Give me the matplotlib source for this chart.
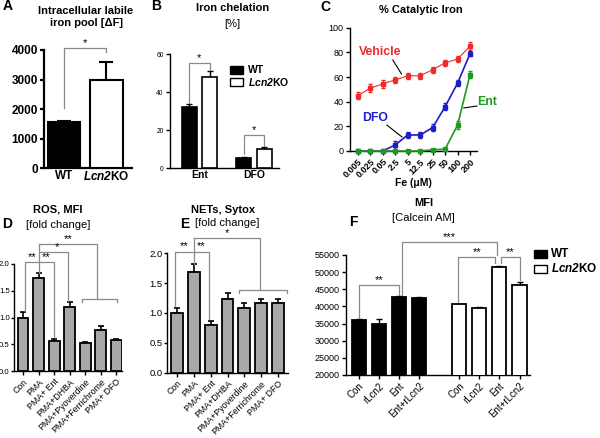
import matplotlib
matplotlib.use('Agg')
import matplotlib.pyplot as plt
from matplotlib.patches import Rectangle
import numpy as np

plt.rcParams['font.family'] = ['Liberation Sans', 'DejaVu Sans']
plt.rcParams['mathtext.fontset'] = 'custom'
plt.rcParams['mathtext.rm'] = 'Liberation Sans'
plt.rcParams['mathtext.bfit'] = 'Liberation Sans:italic:bold'

# ==============================================================================
# DATA
# ==============================================================================
# A - intracellular labile iron pool
a_genotypes = ['WT', r'$\mathbfit{Lcn2}$KO']
a_labile = [1550, 3000]
a_labile_err = [60, 600]

# B - iron chelation [%]
b_chelators = ['Ent', 'DFO']
b_wt = [32.4, 5.6]
b_wt_err = [1.4, 0.3]
b_ko = [48.2, 10.2]
b_ko_err = [3.0, 0.9]

# C - % catalytic iron vs Fe (uM)
c_fe = ['0.005', '0.025', '0.05', '2.5', '5', '12.5', '25', '50', '100', '200']
c_vehicle = [45, 51, 54.5, 57.7, 61, 61, 66, 71.5, 74.6, 85]
c_vehicle_err = [3, 3, 3, 2.5, 2.5, 2.5, 2.5, 2.5, 2.5, 3]
c_dfo = [0, 0, 0, 5, 13, 13, 19, 36, 55, 79]
c_dfo_err = [0, 0, 0, 3, 2.5, 2.5, 3, 3, 2.5, 2]
c_ent = [0, 0, 0, 0, 0, 0, 1, 1.5, 21, 62]
c_ent_err = [0, 0, 0, 0, 0, 0, 0.5, 1, 3, 3]

# D / E - ROS and NETs, fold change
de_treatments = ['Con', 'PMA', 'PMA+ Ent', 'PMA+DHBA', 'PMA+Pyoverdine',
                 'PMA+Ferrichrome', 'PMA+ DFO']
d_ros = [0.99, 1.74, 0.57, 1.2, 0.53, 0.76, 0.58]
d_ros_err = [0.11, 0.09, 0.03, 0.09, 0.01, 0.08, 0.025]
e_nets = [1.0, 1.68, 0.8, 1.23, 1.08, 1.17, 1.17]
e_nets_err = [0.08, 0.14, 0.07, 0.1, 0.08, 0.07, 0.07]

# F - calcein AM MFI
f_treatments = ['Con', 'rLcn2', 'Ent', 'Ent+rLcn2']
f_wt = [36000, 35000, 42800, 42500]
f_wt_err = [200, 1200, 300, 200]
f_ko = [40600, 39600, 51600, 46300]
f_ko_err = [200, 200, 300, 700]

# ==============================================================================
# HELPERS
# ==============================================================================
W, H = 600, 438
GRAY = '#8a8a8a'
BAR_GRAY = '#a8a8a8'


def add_ax(fig, x0, y0, x1, y1, lw=1.0):
    # axes placed by pixel box (top-left origin)
    ax = fig.add_axes([x0 / W, 1 - y1 / H, (x1 - x0) / W, (y1 - y0) / H])
    ax.spines[['top', 'right']].set_visible(False)
    for s in ['left', 'bottom']:
        ax.spines[s].set_linewidth(lw)
    ax.tick_params(width=lw, length=3, pad=1.5)
    return ax


def ftext(fig, x, y, s, **kw):
    fig.text(x / W, 1 - y / H, s, ha=kw.pop('ha', 'center'), va=kw.pop('va', 'center'), **kw)


def bracket(ax, x1, x2, level, y1, y2, stars='', sx=None, fs=8):
    ax.plot([x1, x1, x2, x2], [y1, level, level, y2], color=GRAY, lw=0.9, clip_on=False)
    if stars:
        xs = (x1 + x2) / 2 if sx is None else sx
        ax.text(xs, level, stars, ha='center', va='bottom', fontsize=fs, clip_on=False)


def up_err(ax, x, vals, err, lw=1.0, cap=2.5):
    ax.errorbar(x, vals, yerr=[np.zeros(len(vals)), err], fmt='none', ecolor='black',
                elinewidth=lw, capsize=cap, capthick=lw, clip_on=False)


fig = plt.figure(figsize=(6, 4.38), dpi=100)

# ==============================================================================
# A
# ==============================================================================
ax = add_ax(fig, 44.3, 50, 132, 168.3, lw=1.6)
x = np.arange(2)
up_err(ax, x, a_labile, a_labile_err, lw=1.5, cap=5)
ax.bar(x, a_labile, width=0.76, color=['black', 'white'], edgecolor='black', linewidth=1.5, zorder=3)
ax.set_xlim(-0.46, 1.6)
ax.set_ylim(0, 4000)
ax.set_yticks(np.arange(0, 4001, 1000))
ax.set_xticks(x)
ax.set_xticklabels(a_genotypes, fontsize=8.5, fontweight='bold')
ax.tick_params(axis='x', length=0)
for t in ax.get_yticklabels():
    t.set_fontsize(8.5)
    t.set_fontweight('bold')
bracket(ax, 0, 1, 4080, 2040, 3940, '*')
ftext(fig, 86, 10.7, 'Intracellular labile', fontsize=8, fontweight='bold')
ftext(fig, 87, 23, 'iron pool [\u0394F]', fontsize=8, fontweight='bold')

# ==============================================================================
# B
# ==============================================================================
ax = add_ax(fig, 170, 54.3, 279, 168.3)
x = np.arange(2)
off, bw = 0.188, 0.275
up_err(ax, x - off, b_wt, b_wt_err, cap=2)
up_err(ax, x + off, b_ko, b_ko_err, cap=2)
ax.bar(x - off, b_wt, width=bw, color='black', edgecolor='black', linewidth=1.2, zorder=3)
ax.bar(x + off, b_ko, width=bw, color='white', edgecolor='black', linewidth=1.2, zorder=3)
ax.set_xlim(-0.537, 1.46)
ax.set_ylim(0, 60)
ax.set_yticks([0, 20, 40, 60])
ax.set_xticks(x)
ax.set_xticklabels(b_chelators, fontsize=7.5, fontweight='bold')
ax.tick_params(axis='y', labelsize=4.8)
ax.tick_params(axis='x', length=0)
bracket(ax, -off, off, 55.3, 34.4, 51.6, '*')
bracket(ax, 1 - off, 1 + off, 17.5, 7.5, 11.6, '*')
ftext(fig, 232.5, 8.3, 'Iron chelation', fontsize=8, fontweight='bold')
ftext(fig, 232.5, 24, '[%]', fontsize=8)
for yc, fc, lab in [(70, 'black', 'WT'), (82, 'white', r'$\mathbfit{Lcn2}$KO')]:
    fig.add_artist(Rectangle((230 / W, 1 - (yc + 4) / H), 13 / W, 8 / H, facecolor=fc,
                             edgecolor='black', linewidth=1, transform=fig.transFigure))
    ftext(fig, 248, yc, lab, ha='left', fontsize=7.5, fontweight='bold')

# ==============================================================================
# C
# ==============================================================================
ax = add_ax(fig, 350, 27.7, 477, 151)
x = np.arange(len(c_fe))
ax.errorbar(x, c_vehicle, yerr=c_vehicle_err, fmt='s-', color='#ee2a2a', ms=2.5, lw=0.8,
            elinewidth=1, capsize=1.5, capthick=1, clip_on=False, zorder=3)
ax.errorbar(x, c_dfo, yerr=c_dfo_err, fmt='s-', color='#1c1cc8', ms=2.5, lw=1.2,
            elinewidth=1, capsize=1.5, capthick=1, clip_on=False, zorder=4)
ax.errorbar(x, c_ent, yerr=c_ent_err, fmt='s-', color='#1e9a1e', ms=2.5, lw=1.2,
            elinewidth=1, capsize=1.5, capthick=1, clip_on=False, zorder=5)
ax.set_xlim(-0.64, 9.56)
ax.set_ylim(0, 100)
ax.set_yticks(np.arange(0, 101, 20))
ax.tick_params(axis='y', labelsize=6.5)
ax.set_xticks(x)
ax.set_xticklabels(c_fe, rotation=45, ha='right', rotation_mode='anchor',
                   fontsize=6.5, fontweight='bold')
ax.text(0.1, 80, 'Vehicle', color='#ee2a2a', fontsize=8.8, fontweight='bold', ha='left', va='center')
ax.plot([2.8, 3.5], [73.8, 62.4], color='black', lw=0.8)
ax.text(1.4, 26.8, 'DFO', color='#1c1cc8', fontsize=8.8, fontweight='bold', ha='center', va='center')
ax.plot([2.33, 3.53], [21, 11.4], color='black', lw=0.8)
ax.text(10.4, 39.7, 'Ent', color='#1e9a1e', fontsize=8.8, fontweight='bold', ha='center',
        va='center', clip_on=False)
ax.plot([8.5, 9.56], [34.9, 36.5], color='black', lw=0.8, clip_on=False)
ftext(fig, 421, 10, '% Catalytic Iron', fontsize=8, fontweight='bold')
ftext(fig, 413, 183, 'Fe (\u03bcM)', fontsize=7.5, fontweight='bold')

# ==============================================================================
# D and E
# ==============================================================================
def fold_panel(box, vals, err, xlim, ylab_size):
    ax = add_ax(fig, *box)
    x = np.arange(len(vals))
    up_err(ax, x, vals, err, lw=1.2, cap=2.5)
    ax.bar(x, vals, width=0.7, color=BAR_GRAY, edgecolor='black', linewidth=1.3, zorder=3)
    ax.set_xlim(*xlim)
    ax.set_ylim(0, 2.0)
    ax.set_yticks(np.arange(0, 2.01, 0.5))
    ax.set_yticklabels(['0.0', '0.5', '1.0', '1.5', '2.0'])
    ax.tick_params(axis='y', labelsize=ylab_size, length=2.2, pad=0.8)
    ax.set_xticks(x)
    ax.set_xticklabels(de_treatments, rotation=45, ha='right', rotation_mode='anchor', fontsize=6.3)
    return ax

ax = fold_panel((14, 264, 121.7, 371), d_ros, d_ros_err, (-0.58, 6.35), 5.6)
ax.plot([1, 1], [1.84, 2.38], color=GRAY, lw=0.9, clip_on=False)
bracket(ax, 0.13, 1, 2.04, 1.13, 2.04, '**')
bracket(ax, 1, 2, 2.04, 2.04, 0.63, '**')
bracket(ax, 1, 2.9, 2.22, 2.22, 1.31, '*', sx=2.2)
bracket(ax, 1, 4.75, 2.38, 2.38, 1.35, '**')
bracket(ax, 3.77, 6.03, 1.35, 1.29, 1.29)
ftext(fig, 58, 210, 'ROS, MFI', fontsize=8, fontweight='bold')
ftext(fig, 58, 225, '[fold change]', fontsize=8)

ax = fold_panel((167, 253.3, 288, 372.7), e_nets, e_nets_err, (-0.6, 6.6), 6.8)
ax.plot([1, 1], [1.82, 2.25], color=GRAY, lw=0.9, clip_on=False)
bracket(ax, -0.15, 1, 2.03, 1.12, 2.03, '**')
bracket(ax, 1, 1.92, 2.03, 2.03, 0.9, '**')
bracket(ax, 1, 4.95, 2.25, 2.25, 1.39, '*')
bracket(ax, 3.7, 6.55, 1.39, 1.33, 1.33)
ftext(fig, 223, 210, 'NETs, Sytox', fontsize=8, fontweight='bold')
ftext(fig, 227, 223, '[fold change]', fontsize=8)

# ==============================================================================
# F
# ==============================================================================
ax = add_ax(fig, 345.7, 255, 530, 375)
xw = np.arange(4)
xk = np.arange(4) + 5
up_err(ax, xw, f_wt, f_wt_err, cap=2.5)
up_err(ax, xk, f_ko, f_ko_err, cap=2.5)
ax.bar(xw, f_wt, width=0.7, bottom=0, color='black', edgecolor='black', linewidth=1.3, zorder=3)
ax.bar(xk, f_ko, width=0.7, bottom=0, color='white', edgecolor='black', linewidth=1.3, zorder=3)
ax.set_xlim(-0.64, 8.52)
ax.set_ylim(20000, 55000)
ax.set_yticks(np.arange(20000, 55001, 5000))
ax.tick_params(axis='y', labelsize=6.5)
ax.set_xticks(np.concatenate([xw, xk]))
ax.set_xticklabels(f_treatments + f_treatments, rotation=45, ha='right',
                   rotation_mode='anchor', fontsize=7)
bracket(ax, 0, 2, 46200, 36400, 43300, '**')
bracket(ax, 2.14, 6.86, 58900, 43000, 55000, '***')
bracket(ax, 4.95, 6.8, 54500, 41000, 52600, '**')
bracket(ax, 7.1, 8.0, 54500, 52600, 47700, '**')
ftext(fig, 424, 203, 'MFI', fontsize=8, fontweight='bold')
ftext(fig, 423, 218, '[Calcein AM]', fontsize=8)
for yc, fc, lab in [(254, 'black', 'WT'), (269, 'white', r'$\mathbfit{Lcn2}$KO')]:
    fig.add_artist(Rectangle((534 / W, 1 - (yc + 4) / H), 13 / W, 8 / H, facecolor=fc,
                             edgecolor='black', linewidth=1, transform=fig.transFigure))
    ftext(fig, 551, yc, lab, ha='left', fontsize=8.5, fontweight='bold')

# panel letters
for lab, xx, yy in [('A', 8, 6), ('B', 156, 6), ('C', 325, 7),
                    ('D', 7, 224), ('E', 185, 224), ('F', 353, 222)]:
    ftext(fig, xx, yy, lab, fontsize=10, fontweight='bold')

fig.savefig('out.png', dpi=100)
